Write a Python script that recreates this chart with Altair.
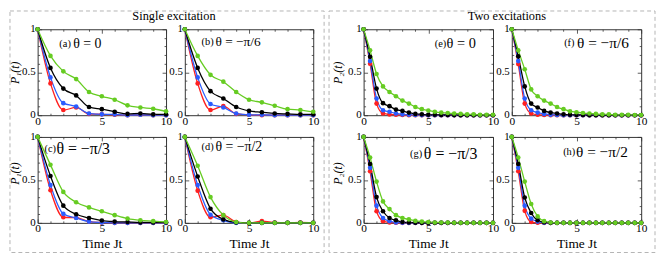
import altair as alt
import pandas as pd

# ---------------- data ----------------
T1 = [0, 1, 2, 3, 4, 5, 6, 7, 8, 9, 10]
T2 = [0, 0.5, 1, 1.5, 2, 2.5, 3, 3.5, 4, 4.5, 5, 5.5, 6, 6.5, 7, 7.5, 8, 8.5, 9, 9.5, 10]

SERIES = ["red", "blue", "black", "green"]
COLORS = ["#ff2020", "#2a5cff", "#000000", "#66cc22"]

# Single excitation
A_RED = [1, 0.37, 0.06, 0.09, 0.015, 0.01, 0.005, 0.0, 0.005, 0.0, 0.0]
A_BLUE = [1, 0.44, 0.14, 0.10, 0.02, 0.01, 0.01, 0.0, 0.005, 0.0, 0.0]
A_BLACK = [1, 0.55, 0.31, 0.23, 0.095, 0.07, 0.04, 0.015, 0.02, 0.01, 0.01]
A_GREEN = [1, 0.69, 0.51, 0.42, 0.27, 0.22, 0.18, 0.115, 0.09, 0.075, 0.045]

B_RED = [1, 0.37, 0.06, 0.105, 0.015, 0.005, 0.0, 0.0, 0.0, 0.0, 0.0]
B_BLUE = [1, 0.44, 0.13, 0.09, 0.02, 0.005, 0.005, 0.0, 0.0, 0.0, 0.0]
B_BLACK = [1, 0.55, 0.28, 0.195, 0.095, 0.05, 0.035, 0.02, 0.015, 0.01, 0.01]
B_GREEN = [1, 0.69, 0.47, 0.39, 0.27, 0.18, 0.15, 0.11, 0.07, 0.06, 0.04]

C_RED = [1, 0.38, 0.065, 0.06, 0.015, 0.005, 0.0, 0.0, 0.0, 0.0, 0.0]
C_BLUE = [1, 0.44, 0.105, 0.057, 0.015, 0.005, 0.0, 0.0, 0.0, 0.0, 0.0]
C_BLACK = [1, 0.545, 0.20, 0.10, 0.057, 0.027, 0.015, 0.01, 0.005, 0.005, 0.005]
C_GREEN = [1, 0.675, 0.36, 0.24, 0.18, 0.135, 0.09, 0.05, 0.03, 0.02, 0.01]

D_RED = [1, 0.375, 0.065, 0.09, 0.01, 0.0, 0.02, 0.005, 0.0, 0.005, 0.0]
D_BLUE = [1, 0.44, 0.095, 0.03, 0.0, 0.0, 0.0, 0.0, 0.0, 0.0, 0.0]
D_BLACK = [1, 0.54, 0.165, 0.04, 0.005, 0.0, 0.0, 0.0, 0.0, 0.0, 0.0]
D_GREEN = [1, 0.665, 0.30, 0.09, 0.01, 0.0, 0.0, 0.0, 0.0, 0.0, 0.0]

# Two excitations
E_RED = [1, 0.60, 0.135, 0.02, 0.008, 0.005, 0.002, 0, 0, 0, 0, 0, 0, 0, 0, 0, 0, 0, 0, 0, 0]
E_BLUE = [1, 0.63, 0.195, 0.057, 0.04, 0.02, 0.01, 0.005, 0.003, 0.001, 0, 0, 0, 0, 0, 0, 0, 0, 0, 0, 0]
E_BLACK = [1, 0.68, 0.31, 0.14, 0.105, 0.065, 0.05, 0.03, 0.015, 0.01, 0.005, 0.005, 0.003, 0.002, 0.001, 0, 0, 0, 0, 0, 0]
E_GREEN = [1, 0.755, 0.48, 0.335, 0.27, 0.22, 0.17, 0.135, 0.095, 0.07, 0.055, 0.04, 0.03, 0.025, 0.02, 0.015, 0.01, 0.01, 0.005, 0.005, 0.005]

F_RED = [1, 0.595, 0.135, 0.02, 0.005, 0.002, 0, 0, 0, 0, 0, 0, 0, 0, 0, 0, 0, 0, 0, 0, 0]
F_BLUE = [1, 0.63, 0.195, 0.057, 0.03, 0.015, 0.005, 0.002, 0, 0, 0, 0, 0, 0, 0, 0, 0, 0, 0, 0, 0]
F_BLACK = [1, 0.685, 0.335, 0.135, 0.09, 0.05, 0.03, 0.02, 0.01, 0.005, 0.003, 0.002, 0, 0, 0, 0, 0, 0, 0, 0, 0]
F_GREEN = [1, 0.755, 0.535, 0.30, 0.22, 0.17, 0.135, 0.095, 0.07, 0.045, 0.035, 0.025, 0.02, 0.015, 0.01, 0.01, 0.005, 0.005, 0.005, 0.003, 0.003]

G_RED = [1, 0.60, 0.135, 0.02, 0.005, 0.001, 0, 0, 0, 0, 0, 0, 0, 0, 0, 0, 0, 0, 0, 0, 0]
G_BLUE = [1, 0.64, 0.20, 0.057, 0.02, 0.005, 0.002, 0, 0, 0, 0, 0, 0, 0, 0, 0, 0, 0, 0, 0, 0]
G_BLACK = [1, 0.685, 0.30, 0.135, 0.057, 0.03, 0.01, 0.005, 0.002, 0, 0, 0, 0, 0, 0, 0, 0, 0, 0, 0, 0]
G_GREEN = [1, 0.76, 0.48, 0.25, 0.16, 0.09, 0.057, 0.04, 0.023, 0.015, 0.01, 0.005, 0.005, 0.003, 0.002, 0.001, 0, 0, 0, 0, 0]

H_RED = [1, 0.60, 0.14, 0.01, 0.002, 0, 0, 0, 0, 0, 0, 0, 0, 0, 0, 0, 0, 0, 0, 0, 0]
H_BLUE = [1, 0.64, 0.20, 0.05, 0.015, 0.002, 0, 0, 0, 0, 0, 0, 0, 0, 0, 0, 0, 0, 0, 0, 0]
H_BLACK = [1, 0.685, 0.295, 0.115, 0.03, 0.008, 0, 0, 0, 0, 0, 0, 0, 0, 0, 0, 0, 0, 0, 0, 0]
H_GREEN = [1, 0.76, 0.48, 0.22, 0.075, 0.02, 0.005, 0, 0, 0, 0, 0, 0, 0, 0, 0, 0, 0, 0, 0, 0]

X_MAJOR = [0, 5, 10]
X_MINOR = [1, 2, 3, 4, 6, 7, 8, 9]
Y_MAJOR = [0, 0.5, 1]
Y_LABELS = ["0", "0.5", "1"]
Y_MINOR = [0.1, 0.2, 0.3, 0.4, 0.6, 0.7, 0.8, 0.9]

# ---------------- styling ----------------
FONT = "Liberation Serif"
FRAME = "#333333"
BOX = "#b4b4b4"
H = 87


def frame(t, red, blue, black, green):
    rows = []
    for k, (name, vals) in enumerate(zip(SERIES, [red, blue, black, green])):
        for tt, v in zip(t, vals):
            rows.append({"t": tt, "p": v, "s": name, "k": k})
    return pd.DataFrame(rows)


XS = alt.Scale(domain=[0, 10], nice=False, zero=False)
YS = alt.Scale(domain=[0, 1], nice=False, zero=False)
COL = alt.Color("s:N", scale=alt.Scale(domain=SERIES, range=COLORS), legend=None)
YLAB_DF = pd.DataFrame({"v": Y_MAJOR, "lab": Y_LABELS})


def tick_axis(orient, vals, size):
    # inward ticks: the axis line is moved inside the frame and ticks point outward to it
    return alt.Axis(orient=orient, values=vals, tickSize=size, offset=-size,
                    domain=False, grid=False, ticks=True, labels=False,
                    tickColor=FRAME, tickWidth=0.8)


def xlabel_axis(titled):
    kw = dict(orient="bottom", values=X_MAJOR, ticks=False, domain=False, grid=False,
              labels=True, labelFont=FONT, labelFontSize=11.5, labelColor="#000000",
              labelPadding=0, labelFlush=False, labelOverlap=False)
    if titled:
        kw.update(titleFont=FONT, titleFontSize=13.5, titleFontWeight="normal",
                  titleColor="#000000", titlePadding=2)
    return alt.Axis(**kw)


def txt(s, x, y, size, **kw):
    return alt.Chart(pd.DataFrame({"s": [s]})).mark_text(
        font=FONT, fontSize=size, color="#000000", **kw
    ).encode(text="s:N", x=alt.value(x), y=alt.value(y))


def box(x, x2, y, y2):
    return alt.Chart(pd.DataFrame({"k": [0]})).mark_rect(
        filled=False, stroke=BOX, strokeWidth=1, strokeDash=[4, 3]
    ).encode(x=alt.value(x), x2=alt.value(x2), y=alt.value(y), y2=alt.value(y2))


def panel(df, w, paren, eq, px, ex, ly, efs, ytitle=None, ty=44, tx=-16,
          xtitle=None, extra=()):
    base = alt.Chart(df)

    def ghost(xa, ya):
        return base.mark_circle(opacity=0).encode(
            x=alt.X("t:Q", scale=XS, title=None, axis=xa),
            y=alt.Y("p:Q", scale=YS, title=None, axis=ya))

    lines = base.mark_line(strokeWidth=1.3, interpolate="monotone").encode(
        x=alt.X("t:Q", scale=XS, title=xtitle, axis=xlabel_axis(bool(xtitle))),
        y=alt.Y("p:Q", scale=YS, title=None, axis=tick_axis("left", Y_MAJOR, 4)),
        color=COL,
    )
    points = base.mark_circle(size=22, opacity=1).encode(
        x=alt.X("t:Q", scale=XS, title=None, axis=tick_axis("top", X_MAJOR, 4)),
        y=alt.Y("p:Q", scale=YS, title=None, axis=tick_axis("right", Y_MAJOR, 4)),
        color=COL,
    )
    ylabels = alt.Chart(YLAB_DF).mark_text(
        font=FONT, fontSize=11, color="#000000", align="right", baseline="middle", dx=-2
    ).encode(
        x=alt.value(0),
        y=alt.Y("v:Q", scale=YS, axis=None),
        text="lab:N",
    )
    layers = [ghost(tick_axis("bottom", X_MAJOR, 4), tick_axis("left", Y_MINOR, 2)),
              ghost(tick_axis("bottom", X_MINOR, 2), tick_axis("right", Y_MINOR, 2)),
              ghost(tick_axis("top", X_MINOR, 2), None),
              lines, points, ylabels,
              txt(paren, px, ly, 10.5, align="left", baseline="middle"),
              txt(eq, ex, ly, efs, align="left", baseline="middle")]
    if ytitle:
        layers.append(txt(ytitle, tx, ty, 12, angle=270, align="center",
                          baseline="bottom", fontStyle="italic"))
    layers.extend(extra)
    return alt.layer(*layers).resolve_scale(
        x="independent", y="independent").properties(width=w, height=H)


def spacer(w):
    return alt.Chart(pd.DataFrame({"k": [0]})).mark_point(opacity=0).encode(
        x=alt.value(0), y=alt.value(0)
    ).properties(width=w, height=H, view=alt.ViewBackground(stroke="transparent"))


pa = panel(frame(T1, A_RED, A_BLUE, A_BLACK, A_GREEN), 130, "(a)", "θ = 0", 22, 36, 15, 14,
           ytitle="P₁(t)", ty=44,
           extra=[box(-28, 290, -18.5, 226),
                  txt("Single excitation", 138, -6.5, 12.5, align="center", baseline="bottom")])
pb = panel(frame(T1, B_RED, B_BLUE, B_BLACK, B_GREEN), 130, "(b)", "θ = −π/6", 17, 31, 13, 13.5)
pc = panel(frame(T1, C_RED, C_BLUE, C_BLACK, C_GREEN), 130, "(c)", "θ = −π/3", 7, 19, 12, 16,
           ytitle="P₁(t)", ty=37, xtitle="Time Jt")
pd_ = panel(frame(T1, D_RED, D_BLUE, D_BLACK, D_GREEN), 130, "(d)", "θ = −π/2", 17, 31, 10, 14,
            xtitle="Time Jt")

pe = panel(frame(T2, E_RED, E_BLUE, E_BLACK, E_GREEN), 131, "(e)", "θ = 0", 72, 84, 15, 14.5,
           ytitle="P₂(t)", ty=44, tx=-19,
           extra=[box(-35, 295, -18.5, 226),
                  txt("Two excitations", 145, -6.5, 12.5, align="center", baseline="bottom")])
pf = panel(frame(T2, F_RED, F_BLUE, F_BLACK, F_GREEN), 131, "(f)", "θ = −π/6", 53, 66, 14, 15.5)
pg = panel(frame(T2, G_RED, G_BLUE, G_BLACK, G_GREEN), 131, "(g)", "θ = −π/3", 47, 61, 17, 16,
           ytitle="P₂(t)", ty=37, tx=-19, xtitle="Time Jt")
ph = panel(frame(T2, H_RED, H_BLUE, H_BLACK, H_GREEN), 131, "(h)", "θ = −π/2", 52, 65, 15, 15.5,
           xtitle="Time Jt")

chart = alt.concat(
    pa, pb, spacer(13), pe, pf,
    pc, pd_, spacer(13), pg, ph,
    columns=5, spacing={"row": 22, "column": 19}, align="each", bounds="flush",
).properties(padding=0, background="#ffffff").configure_view(
    stroke=FRAME, strokeWidth=1
)

chart.save("out.html", embed_options={"renderer": "svg", "actions": False})
